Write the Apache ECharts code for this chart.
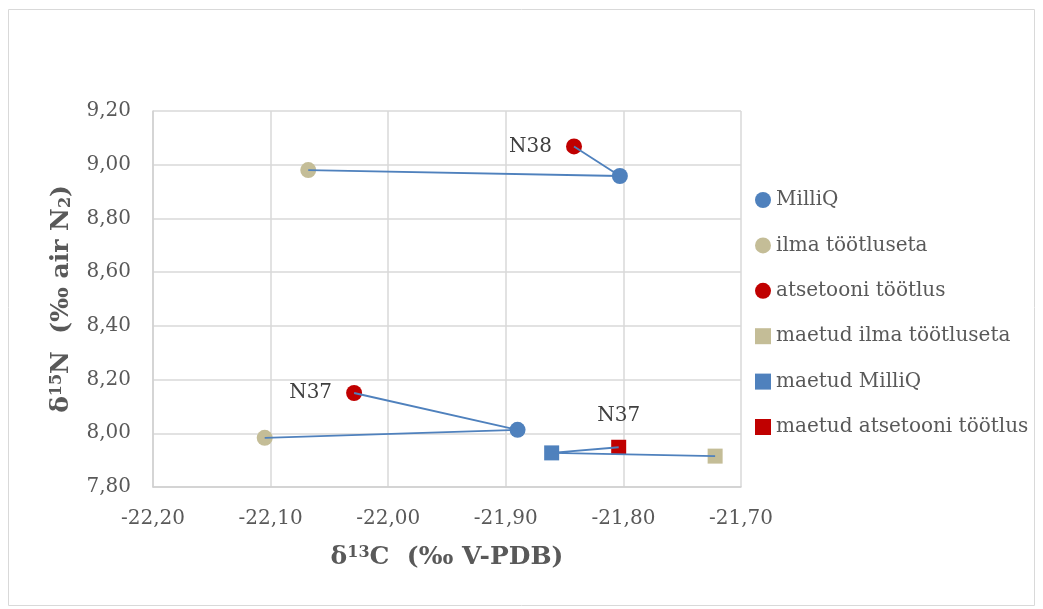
<!DOCTYPE html>
<html>
<head>
<meta charset="utf-8">
<script src="https://cdn.jsdelivr.net/npm/echarts@6/dist/echarts.min.js"></script>
<style>
  html, body { margin: 0; padding: 0; background: #fff; }
  #main { width: 1043px; height: 609px; }
</style>
</head>
<body>
<div id="main"></div>
<script>
// ticks
var xTicks = [-22.2, -22.1, -22.0, -21.9, -21.8, -21.7];
var yTicks = [7.8, 8.0, 8.2, 8.4, 8.6, 8.8, 9.0, 9.2];

// points [d13C, d15N]
var milliQ = [[-21.803, 8.958], [-21.890, 8.013]];
var ilma = [[-22.068, 8.980], [-22.105, 7.983]];
var atsetoon = [[-21.842, 9.068], [-22.029, 8.150]];
var maetudIlma = [[-21.722, 7.915]];
var maetudMilliQ = [[-21.861, 7.927]];
var maetudAtsetoon = [[-21.804, 7.948]];

// labels on the acetone points
var atsetoonLabels = ['N38', 'N37'];
var maetudLabels = ['N37'];

// connecting lines: acetone -> MilliQ -> untreated
var linkN38 = [atsetoon[0], milliQ[0], ilma[0]];
var linkN37 = [atsetoon[1], milliQ[1], ilma[1]];
var linkMaetud = [maetudAtsetoon[0], maetudMilliQ[0], maetudIlma[0]];

var font = 'DejaVu Serif';
var blue = '#4F81BD', tan = '#C4BD97', red = '#C00000';
var txt = '#595959';

function fmt(v) { return v.toFixed(2).replace('.', ','); }

var myChart = echarts.init(document.getElementById('main'));

function lineSeries(d) {
    return {
        type: 'line',
        data: d,
        symbol: 'none',
        z: 5,
        silent: true,
        lineStyle: { color: blue, width: 1.8 }
    };
}

var titleRich = {
    b: { fontFamily: font, fontSize: 25, fontWeight: 'bold', color: txt },
    sup: { fontFamily: font, fontSize: 16, fontWeight: 'bold', color: txt, verticalAlign: 'top', padding: [0, 0, 9, 0] },
    sub: { fontFamily: font, fontSize: 16, fontWeight: 'bold', color: txt, verticalAlign: 'bottom', padding: [9, 0, 0, 0] }
};

myChart.setOption({
    animation: false,
    textStyle: { fontFamily: font },
    graphic: [{
        type: 'rect',
        shape: { x: 8.5, y: 9.5, width: 1026, height: 596 },
        style: { fill: 'none', stroke: '#d9d9d9', lineWidth: 1 }
    }],
    grid: { left: 153, top: 111, width: 588, height: 376 },
    legend: {
        orient: 'vertical',
        left: 750,
        top: 185,
        itemWidth: 16,
        itemHeight: 16,
        itemGap: 25.4,
        textStyle: { fontFamily: font, fontSize: 20, lineHeight: 20, color: txt },
        data: [
            { name: 'MilliQ', icon: 'circle' },
            { name: 'ilma töötluseta', icon: 'circle' },
            { name: 'atsetooni töötlus', icon: 'circle' },
            { name: 'maetud ilma töötluseta', icon: 'rect' },
            { name: 'maetud MilliQ', icon: 'rect' },
            { name: 'maetud atsetooni töötlus', icon: 'rect' }
        ]
    },
    xAxis: {
        type: 'value',
        min: xTicks[0],
        max: xTicks[xTicks.length - 1],
        interval: 0.1,
        name: '{b|δ}{sup|13}{b|C  (‰ V-PDB)}',
        nameLocation: 'middle',
        nameGap: 58,
        nameTextStyle: { rich: titleRich },
        axisLine: { show: true, lineStyle: { color: '#d0d0d0', width: 1.5 } },
        axisTick: { show: false },
        axisLabel: { fontSize: 20, color: txt, margin: 22, formatter: fmt },
        splitLine: { show: true, lineStyle: { color: '#d9d9d9', width: 1.5 } }
    },
    yAxis: {
        type: 'value',
        min: yTicks[0],
        max: yTicks[yTicks.length - 1],
        interval: 0.2,
        name: '{b|δ}{sup|15}{b|N  (‰ air N}{sub|2}{b|)}',
        nameLocation: 'middle',
        nameRotate: 90,
        nameGap: 79,
        nameTextStyle: { rich: titleRich },
        axisLine: { show: true, lineStyle: { color: '#d0d0d0', width: 1.5 } },
        axisTick: { show: false },
        axisLabel: { fontSize: 20, color: txt, margin: 22, formatter: fmt },
        splitLine: { show: true, lineStyle: { color: '#d9d9d9', width: 1.5 } }
    },
    series: [
        {
            name: 'MilliQ', type: 'scatter', symbol: 'circle', symbolSize: 16,
            itemStyle: { color: blue, opacity: 1 }, data: milliQ
        },
        {
            name: 'ilma töötluseta', type: 'scatter', symbol: 'circle', symbolSize: 16,
            itemStyle: { color: tan, opacity: 1 }, data: ilma
        },
        {
            name: 'atsetooni töötlus', type: 'scatter', symbol: 'circle', symbolSize: 16,
            itemStyle: { color: red, opacity: 1 },
            data: atsetoon.map(function (p, i) {
                return {
                    value: p,
                    label: {
                        show: true, position: 'left', distance: 14,
                        formatter: atsetoonLabels[i],
                        fontFamily: font, fontSize: 20, color: '#404040'
                    }
                };
            })
        },
        {
            name: 'maetud ilma töötluseta', type: 'scatter', symbol: 'rect', symbolSize: 15,
            itemStyle: { color: tan, opacity: 1 }, data: maetudIlma
        },
        {
            name: 'maetud MilliQ', type: 'scatter', symbol: 'rect', symbolSize: 15,
            itemStyle: { color: blue, opacity: 1 }, data: maetudMilliQ
        },
        {
            name: 'maetud atsetooni töötlus', type: 'scatter', symbol: 'rect', symbolSize: 15,
            itemStyle: { color: red, opacity: 1 },
            data: maetudAtsetoon.map(function (p, i) {
                return {
                    value: p,
                    label: {
                        show: true, position: 'top', distance: 14,
                        formatter: maetudLabels[i],
                        fontFamily: font, fontSize: 20, color: '#404040'
                    }
                };
            })
        },
        lineSeries(linkN38),
        lineSeries(linkN37),
        lineSeries(linkMaetud)
    ]
});
</script>
</body>
</html>
